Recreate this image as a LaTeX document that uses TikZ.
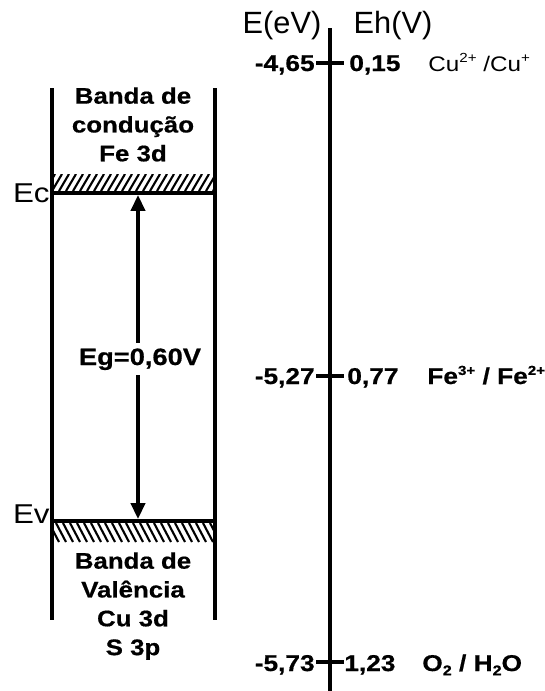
\documentclass[tikz,border=0pt]{standalone}
\usepackage{fontspec}
\setmainfont{Liberation Sans}
\newfontfamily\widesans[FakeStretch=1.15, BoldFeatures={FakeBold=0.6}]{Liberation Sans}
\usetikzlibrary{arrows.meta}

\newcommand\chg[1]{\raisebox{0.75ex}{\fontsize{7.5}{8}\selectfont #1}}
\newcommand\idx[1]{\raisebox{-0.35ex}{\fontsize{8}{8}\selectfont #1}}

\tikzset{
  wall/.style={line width=2.3pt},
  level/.style={line width=2pt},
  hatch/.style={line width=1.2pt},
  axis/.style={line width=2.3pt},
  band/.style={align=center, inner sep=0pt, font=\widesans\bfseries\fontsize{12.8}{16.4}\selectfont},
  num/.style={inner sep=0pt, font=\widesans\bfseries\fontsize{13}{15}\selectfont},
  pair/.style={inner sep=0pt, font=\widesans\fontsize{12}{15}\selectfont},
  side/.style={inner sep=0pt, font=\widesans\fontsize{15.5}{17}\selectfont},
  head/.style={inner sep=0pt, font=\fontsize{17.5}{20}\selectfont},
}

\begin{document}
\begin{tikzpicture}[x=0.02cm, y=-0.02cm, line cap=butt]
  \useasboundingbox (0,0) rectangle (545,691);

  % band walls
  \draw[wall] (52,88) -- (52,620);
  \draw[wall] (215,88) -- (215,620);

  % conduction band edge
  \begin{scope}
    \clip (52,174) rectangle (215,191);
    \foreach \x in {38,45,...,220}
      \draw[hatch] (\x,191) -- ++(10,-17);
  \end{scope}
  \coordinate (ecl) at (52,193);
  \coordinate (ecr) at (215,193);
  \draw[level] (ecl) -- (ecr);

  % valence band edge
  \begin{scope}
    \clip (52,523) rectangle (215,542);
    \foreach \x in {42,49,...,220}
      \draw[hatch] (\x,523) -- ++(10,19);
  \end{scope}
  \coordinate (evl) at (52,521);
  \coordinate (evr) at (215,521);
  \draw[level] (evl) -- (evr);

  \node[side, anchor=base east] (ec) at (50,202) {Ec};
  \node[side, anchor=base east] (ev) at (50,523) {Ev};

  \node[band, anchor=north] (cband) at (133,87) {Banda de\\condução\\Fe 3d};
  \node[band, anchor=north] (vband) at (133,552) {Banda de\\Valência\\Cu 3d\\S 3p};

  % gap
  \coordinate (gtop) at (138,195);
  \coordinate (gbot) at (138,519);
  \draw[line width=2pt, {Triangle[length=9pt,width=8pt]}-{Triangle[length=9pt,width=8pt]}] (gtop) -- (gbot);
  \node[num, fill=white, inner sep=3pt, anchor=base, font=\widesans\bfseries\fontsize{13.5}{16}\selectfont] (eg) at (140,365) {Eg=0,60V};

  % energy scale
  \coordinate (atop) at (330,28);
  \coordinate (abot) at (330,691);
  \draw[axis] (atop) -- (abot);
  \node[head, anchor=base] (eev) at (282,33) {E(eV)};
  \node[head, anchor=base] (ehv) at (393,33) {Eh(V)};

  \draw[axis] (316,63) -- (344,63);
  \node[num, anchor=base east] (e1) at (315,71) {-4,65};
  \node[num, anchor=base west] (h1) at (349,71) {0,15};
  \node[pair, anchor=base west] (p1) at (428,71) {Cu\chg{2+} /Cu\chg{+}};

  \draw[axis] (316,376) -- (344,376);
  \node[num, anchor=base east] (e2) at (315,384) {-5,27};
  \node[num, anchor=base west] (h2) at (347,384) {0,77};
  \node[num, anchor=base west] (p2) at (427,384) {Fe\chg{3+} / Fe\chg{2+}};

  \draw[axis] (316,662) -- (344,662);
  \node[num, anchor=base east] (e3) at (315,671) {-5,73};
  \node[num, anchor=base west] (h3) at (344,671) {1,23};
  \node[num, anchor=base west] (p3) at (422,671) {O\idx{2} / H\idx{2}O};
\end{tikzpicture}
\end{document}
